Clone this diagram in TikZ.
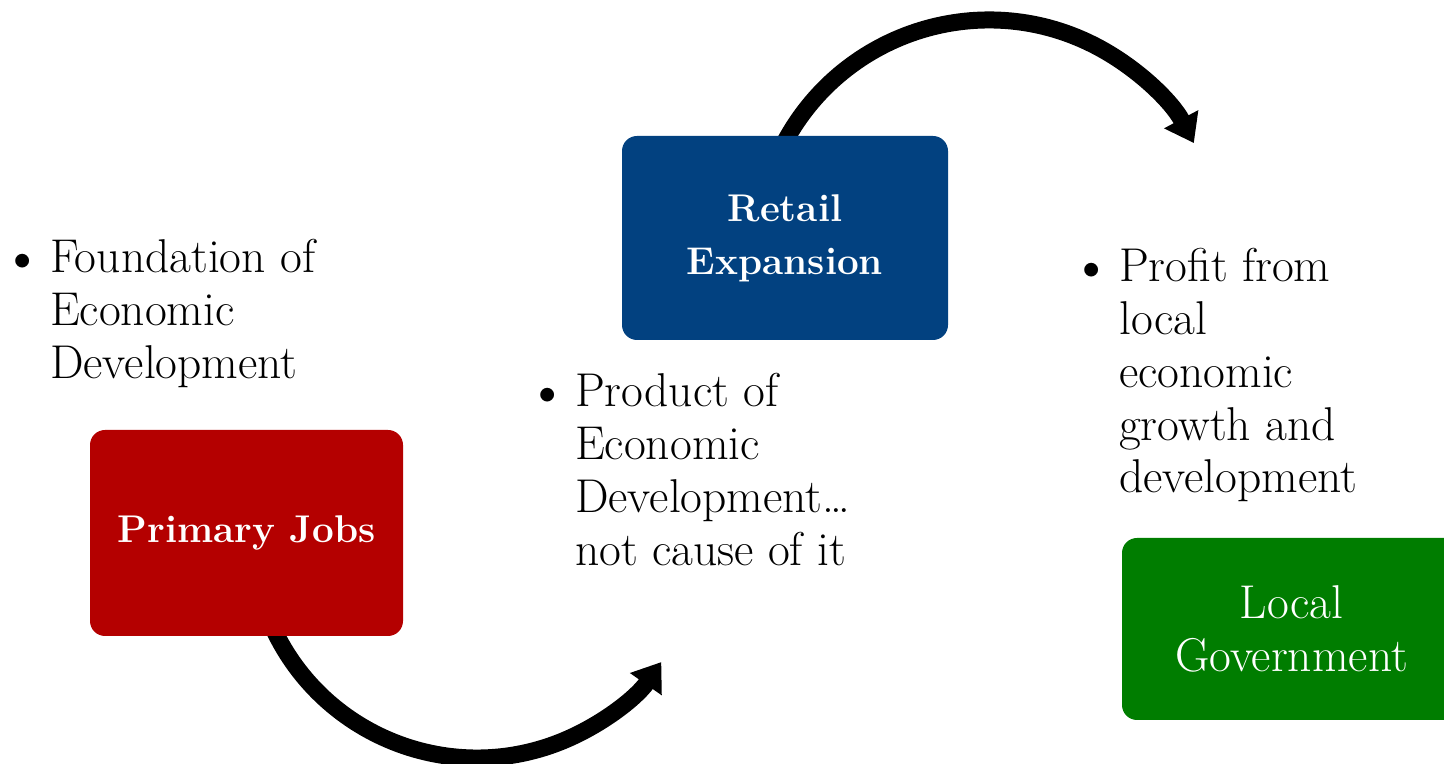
\documentclass[tikz,border=0pt]{standalone}
\usepackage{tikz}
\usetikzlibrary{arrows.meta,positioning}
\usepackage{xcolor}
\definecolor{jobred}{RGB}{180,0,0}
\definecolor{retailblue}{RGB}{2,65,128}
\definecolor{govgreen}{RGB}{0,125,0}
\newcommand{\bigdot}{\raisebox{-2.5pt}{\fontsize{35}{30}\selectfont\textbullet}}

\begin{document}
\begin{tikzpicture}[>={Triangle[length=0.54cm,width=0.74cm]},node distance=2cm,on grid,
		boxstyle/.style={rectangle,rounded corners=0.3cm,text=white,align=center,inner sep=0pt,font=\fontsize{22}{30}\selectfont\bfseries},
		notestyle/.style={inner sep=0pt,anchor=base west,font=\fontsize{27}{30}\selectfont}]
		\useasboundingbox (0,0) rectangle (28.88,15.28);
		\clip (0,0) rectangle (28.88,15.28);
		\coordinate (c1) at (9.54,4.62);
		\coordinate (c2) at (19.78,10.24);

		\tikzset{mystyle/.style={->,line width=0.34cm}}
		\draw[mystyle] ([shift={(202:4.5)}]c1) arc[start angle=202,end angle=325,radius=4.5];
		\draw[mystyle] ([shift={(152:4.64)}]c2) arc[start angle=152,end angle=28,radius=4.64];

		\node[boxstyle,fill=jobred,minimum width=6.26cm,minimum height=4.12cm]        (0) at (4.93,4.62)                   {Primary Jobs};
		\node[boxstyle,fill=retailblue,minimum width=6.52cm,minimum height=4.08cm]    (1) [above right=5.9cm and 10.77cm of 0] {Retail\\Expansion};
		\node[boxstyle,fill=govgreen,minimum width=6.78cm,minimum height=3.64cm,
			font=\fontsize{27}{30}\selectfont]                                          (2) [below right=7.82cm and 10.13cm of 1] {Local\\Government};

		\node[notestyle] (3) at (0.0,9.82)   {\begin{tabular}[t]{@{}l@{\hspace{0.11cm}}l@{}}\bigdot & Foundation of\\ & Economic\\ & Development\end{tabular}};
		\node[notestyle] (4) at (10.5,7.14)  {\begin{tabular}[t]{@{}l@{\hspace{0.11cm}}l@{}}\bigdot & Product of\\ & Economic\\ & Development\dots\\ & not cause of it\end{tabular}};
		\node[notestyle] (5) at (21.38,9.64) {\begin{tabular}[t]{@{}l@{\hspace{0.11cm}}l@{}}\bigdot & Profit from\\ & local\\ & economic\\ & growth and\\ & development\end{tabular}};
	\end{tikzpicture}
\end{document}
